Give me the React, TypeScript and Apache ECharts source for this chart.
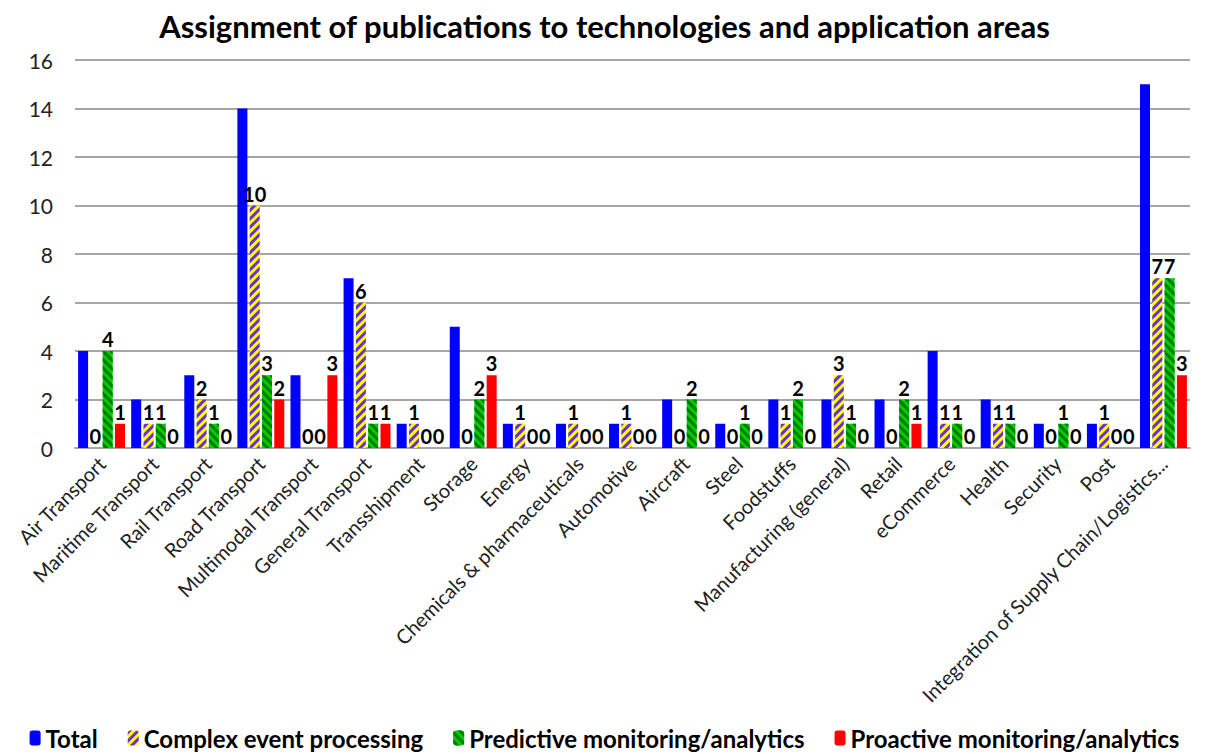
import React, { useEffect, useRef } from "react";
import * as echarts from "echarts";

const categories = [
  "Air Transport",
  "Maritime Transport",
  "Rail Transport",
  "Road Transport",
  "Multimodal Transport",
  "General Transport",
  "Transshipment",
  "Storage",
  "Energy",
  "Chemicals & pharmaceuticals",
  "Automotive",
  "Aircraft",
  "Steel",
  "Foodstuffs",
  "Manufacturing (general)",
  "Retail",
  "eCommerce",
  "Health",
  "Security",
  "Post",
  "Integration of Supply Chain/Logistics...",
];

const totalValues = [4, 2, 3, 14, 3, 7, 1, 5, 1, 1, 1, 2, 1, 2, 2, 2, 4, 2, 1, 1, 15];
const cepValues = [0, 1, 2, 10, 0, 6, 1, 0, 1, 1, 1, 0, 0, 1, 3, 0, 1, 1, 0, 1, 7];
const predictiveValues = [4, 1, 1, 3, 0, 1, 0, 2, 0, 0, 0, 2, 1, 2, 1, 2, 1, 1, 1, 0, 7];
const proactiveValues = [1, 0, 0, 2, 3, 1, 0, 3, 0, 0, 0, 0, 0, 0, 0, 1, 0, 0, 0, 0, 3];

const seriesNames = [
  "Total",
  "Complex event processing",
  "Predictive monitoring/analytics",
  "Proactive monitoring/analytics",
];

const FONT = "Lato, 'Open Sans', sans-serif";

export default function App() {
  const ref = useRef<HTMLDivElement>(null);
  useEffect(() => {
    if (!ref.current) return;
    const chart = echarts.init(ref.current, undefined, { renderer: "svg" });
    const label = {
      show: true,
      position: "top" as const,
      distance: 2,
      color: "#000",
      fontWeight: "bold" as const,
      fontSize: 20,
      fontFamily: FONT,
    };
    chart.setOption({
      animation: false,
      backgroundColor: "#fff",
      title: {
        text: "Assignment of publications to technologies and application areas",
        left: "center",
        top: 5,
        textStyle: { fontFamily: FONT, fontWeight: "bold", fontSize: 31, color: "#000" },
      },
      legend: {
        bottom: -1,
        left: "center",
        itemWidth: 11,
        itemHeight: 15,
        itemGap: 30,
        textStyle: { fontFamily: FONT, fontWeight: "bold", fontSize: 24, color: "#000" },
        data: seriesNames,
      },
      grid: { left: 75, right: 19, top: 60, bottom: 306 },
      xAxis: {
        type: "category",
        data: categories,
        axisLine: { lineStyle: { color: "#a6a6a6", width: 2 } },
        axisTick: { show: false },
        axisLabel: {
          interval: 0,
          rotate: 45,
          fontFamily: FONT,
          fontSize: 20,
          color: "#222",
          margin: 12,
        },
      },
      yAxis: {
        type: "value",
        min: 0,
        max: 16,
        interval: 2,
        axisLine: { show: false },
        axisTick: { show: false },
        splitLine: { lineStyle: { color: "#a6a6a6", width: 2 } },
        axisLabel: { fontFamily: FONT, fontSize: 21, color: "#222", margin: 22 },
      },
      series: [
        {
          name: seriesNames[0],
          type: "bar",
          data: totalValues,
          barWidth: 10,
          barGap: "23%",
          itemStyle: { color: "#0000ff" },
        },
        {
          name: seriesNames[1],
          type: "bar",
          data: cepValues,
          barWidth: 10,
          barGap: "23%",
          itemStyle: {
            color: "#ffff00",
            decal: {
              symbol: "rect",
              color: "#6a2fd8",
              dashArrayX: [1, 0],
              dashArrayY: [3, 3],
              rotation: -Math.PI / 4,
              symbolSize: 1,
            },
          },
          label,
        },
        {
          name: seriesNames[2],
          type: "bar",
          data: predictiveValues,
          barWidth: 10,
          barGap: "23%",
          itemStyle: {
            color: "#00cc00",
            decal: {
              symbol: "rect",
              color: "#007a00",
              dashArrayX: [1, 0],
              dashArrayY: [3, 3],
              rotation: Math.PI / 4,
              symbolSize: 1,
            },
          },
          label,
        },
        {
          name: seriesNames[3],
          type: "bar",
          data: proactiveValues,
          barWidth: 10,
          barGap: "23%",
          itemStyle: { color: "#ff0000" },
          label,
        },
      ],
    });
    return () => chart.dispose();
  }, []);
  return (
    <div
      ref={ref}
      style={{ position: "fixed", left: 0, top: 0, width: 1209, height: 754 }}
    />
  );
}
